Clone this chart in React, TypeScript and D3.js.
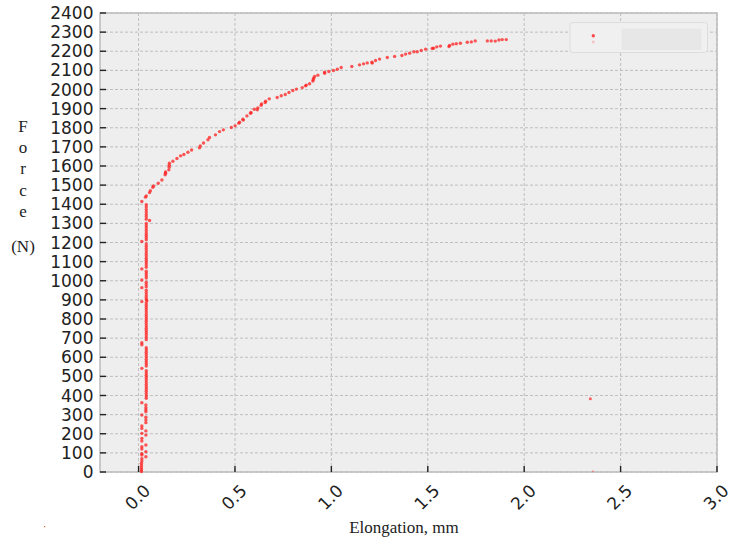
import React from "react";
import * as d3 from "d3";

const W = 739;
const H = 542;

const yTicks = [0, 100, 200, 300, 400, 500, 600, 700, 800, 900, 1000, 1100, 1200, 1300, 1400, 1500, 1600, 1700, 1800, 1900, 2000, 2100, 2200, 2300, 2400];
const xTicks = [0.0, 0.5, 1.0, 1.5, 2.0, 2.5, 3.0];

// elastic part: near-vertical column [elongation mm, force N]
const columnPoints: [number, number][] = [
  [0.040, 1398], [0.040, 1385], [0.040, 1372], [0.040, 1360], [0.040, 1347], [0.040, 1335], [0.040, 1322],
  [0.057, 1315], [0.040, 1300], [0.040, 1288], [0.040, 1276], [0.040, 1263], [0.040, 1250], [0.040, 1238],
  [0.040, 1226], [0.040, 1214], [0.017, 1205], [0.040, 1192], [0.040, 1180], [0.040, 1168], [0.040, 1156],
  [0.040, 1143], [0.040, 1131], [0.040, 1118], [0.040, 1106], [0.040, 1094], [0.040, 1082], [0.040, 1070],
  [0.017, 1062], [0.040, 1050], [0.040, 1038], [0.040, 1026], [0.040, 1014], [0.017, 1004], [0.040, 992],
  [0.040, 980], [0.040, 968], [0.017, 964], [0.040, 950], [0.040, 938], [0.040, 926], [0.040, 914],
  [0.040, 902], [0.043, 896], [0.017, 891], [0.040, 884], [0.040, 872], [0.040, 860], [0.040, 848],
  [0.040, 836], [0.040, 824], [0.040, 812], [0.040, 800], [0.040, 788], [0.040, 776], [0.040, 764],
  [0.040, 752], [0.040, 740], [0.040, 728], [0.040, 716], [0.040, 704], [0.040, 692], [0.017, 676],
  [0.017, 665], [0.040, 650], [0.040, 638], [0.040, 626], [0.040, 614], [0.040, 602], [0.040, 590],
  [0.040, 578], [0.040, 566], [0.040, 554], [0.017, 542], [0.040, 530], [0.040, 518], [0.040, 506],
  [0.040, 494], [0.040, 482], [0.040, 470], [0.040, 458], [0.040, 446], [0.040, 434], [0.040, 422],
  [0.040, 410], [0.040, 398], [0.040, 386], [0.017, 362], [0.038, 350], [0.038, 336], [0.038, 325],
  [0.038, 315], [0.017, 298], [0.038, 286], [0.038, 272], [0.038, 258], [0.017, 241], [0.017, 228],
  [0.038, 215], [0.017, 202], [0.038, 193], [0.017, 176], [0.017, 162], [0.038, 141], [0.017, 132],
  [0.017, 120], [0.038, 106], [0.017, 96], [0.017, 89], [0.038, 80], [0.017, 70], [0.017, 58],
  [0.015, 46], [0.015, 34], [0.015, 22], [0.015, 12], [0.015, 3],
];

// plastic part of the curve
const curvePoints: [number, number][] = [
  [0.017, 1414], [0.036, 1437], [0.040, 1444], [0.057, 1461], [0.061, 1471], [0.074, 1489], [0.078, 1496],
  [0.102, 1510], [0.121, 1527], [0.138, 1554], [0.140, 1562], [0.140, 1569], [0.157, 1580], [0.159, 1594],
  [0.159, 1604], [0.160, 1615], [0.178, 1625], [0.199, 1639], [0.218, 1653], [0.235, 1660], [0.256, 1672],
  [0.275, 1684], [0.316, 1695], [0.320, 1705], [0.337, 1720], [0.360, 1737], [0.368, 1749], [0.399, 1763],
  [0.420, 1780], [0.440, 1789], [0.481, 1801], [0.501, 1810], [0.520, 1824], [0.524, 1829], [0.541, 1845],
  [0.543, 1840], [0.562, 1862], [0.581, 1876], [0.583, 1880], [0.600, 1897], [0.616, 1894], [0.619, 1904],
  [0.636, 1918], [0.638, 1925], [0.657, 1932], [0.659, 1939], [0.678, 1951], [0.719, 1958], [0.740, 1967],
  [0.761, 1974], [0.780, 1984], [0.800, 1995], [0.819, 2002], [0.849, 2010], [0.866, 2019], [0.870, 2023],
  [0.887, 2030], [0.904, 2044], [0.906, 2051], [0.908, 2059], [0.913, 2068], [0.930, 2075], [0.965, 2085],
  [0.965, 2091], [0.987, 2094], [1.011, 2099], [1.031, 2106], [1.051, 2115], [1.106, 2120], [1.146, 2129],
  [1.167, 2134], [1.186, 2139], [1.210, 2143], [1.212, 2138], [1.229, 2152], [1.250, 2159], [1.290, 2167],
  [1.328, 2173], [1.366, 2178], [1.385, 2185], [1.406, 2190], [1.428, 2197], [1.445, 2197], [1.466, 2204],
  [1.489, 2211], [1.523, 2215], [1.530, 2216], [1.547, 2223], [1.566, 2227], [1.610, 2225], [1.613, 2230],
  [1.630, 2237], [1.648, 2239], [1.669, 2242], [1.705, 2247], [1.726, 2249], [1.746, 2254], [1.809, 2254],
  [1.829, 2254], [1.850, 2253], [1.869, 2259], [1.886, 2261], [1.907, 2261],
];

const outlierPoints: [number, number][] = [[2.343, 383]];
const faintPoints: [number, number][] = [[2.357, 4]];

const yLabelLetters = ["F", "o", "r", "c", "e"];

export default function App() {
  const x = d3.scaleLinear().domain([-0.2, 3.0]).range([100, 717]);
  const y = d3.scaleLinear().domain([0, 2400]).range([472, 13]);
  const [x0, x1] = x.range();
  const [y0, y1] = y.range();
  const allPts = [...columnPoints, ...curvePoints];
  const tickFont = "'DejaVu Sans', sans-serif";
  const serif = "'Liberation Serif', 'Times New Roman', serif";

  return (
    <svg width={W} height={H} style={{ position: "absolute", left: 0, top: 0, background: "#fff" }}>
      <rect x={0} y={0} width={W} height={H} fill="#ffffff" />
      <rect x={x0} y={y1} width={x1 - x0} height={y0 - y1} fill="#eeeeee" />
      {/* grid */}
      {yTicks.map((t) => (
        <line key={"gy" + t} x1={x0} x2={x1} y1={y(t)} y2={y(t)} stroke="#b9b9b9" strokeWidth={0.9} strokeDasharray="3,2" />
      ))}
      {xTicks.map((t) => (
        <line key={"gx" + t} x1={x(t)} x2={x(t)} y1={y1} y2={y0} stroke="#b9b9b9" strokeWidth={0.9} strokeDasharray="3,2" />
      ))}
      {/* frame */}
      <rect x={x0} y={y1} width={x1 - x0} height={y0 - y1} fill="none" stroke="#bcbcbc" strokeWidth={1.5} />
      {/* ticks */}
      {yTicks.map((t) => (
        <line key={"ty" + t} x1={x0} x2={x0 + 6} y1={y(t)} y2={y(t)} stroke="#222" strokeWidth={1.4} />
      ))}
      {xTicks.map((t) => (
        <line key={"tx" + t} x1={x(t)} x2={x(t)} y1={y0} y2={y0 - 6} stroke="#222" strokeWidth={1.4} />
      ))}
      {/* tick labels */}
      {yTicks.map((t) => (
        <text key={"ly" + t} x={93.5} y={y(t)} dy="0.36em" textAnchor="end" fontFamily={tickFont} fontSize={17} fill="#222">
          {t}
        </text>
      ))}
      {xTicks.map((t) => (
        <text
          key={"lx" + t}
          transform={`translate(${x(t) - 1},${497}) rotate(-45)`}
          textAnchor="middle"
          dy="0.36em"
          fontFamily={tickFont}
          fontSize={17}
          fill="#222"
        >
          {t.toFixed(1)}
        </text>
      ))}
      {/* data */}
      {allPts.map((p, i) => (
        <circle key={"p" + i} cx={x(p[0])} cy={y(p[1])} r={1.7} fill="#ff2020" fillOpacity={0.75} />
      ))}
      {outlierPoints.map((p, i) => (
        <circle key={"o" + i} cx={x(p[0])} cy={y(p[1])} r={1.5} fill="#ff2020" fillOpacity={0.7} />
      ))}
      {faintPoints.map((p, i) => (
        <circle key={"f" + i} cx={x(p[0])} cy={y(p[1])} r={0.9} fill="#ff4040" fillOpacity={0.5} />
      ))}
      {/* legend */}
      <rect x={570} y={22.5} width={137.5} height={30} rx={3} fill="#f0f0f0" stroke="#dcdcdc" strokeWidth={1} />
      <rect x={621.5} y={28.5} width={80} height={21.5} fill="#e7e7e7" />
      <circle cx={593.3} cy={35.7} r={1.7} fill="#ff2020" fillOpacity={0.8} />
      <circle cx={593.3} cy={42} r={1.4} fill="#ff8080" fillOpacity={0.4} />
      {/* axis titles */}
      {yLabelLetters.map((c, i) => (
        <text key={"yl" + i} x={23} y={131.5 + i * 21.4} textAnchor="middle" fontFamily={serif} fontSize={17} fill="#222">
          {c}
        </text>
      ))}
      <text x={23} y={252} textAnchor="middle" fontFamily={serif} fontSize={17} fill="#222">
        (N)
      </text>
      <text x={404} y={533} textAnchor="middle" fontFamily={serif} fontSize={17} fill="#222">
        Elongation, mm
      </text>
      <rect x={44} y={526} width={1.2} height={1.2} fill="#d07030" />
    </svg>
  );
}
